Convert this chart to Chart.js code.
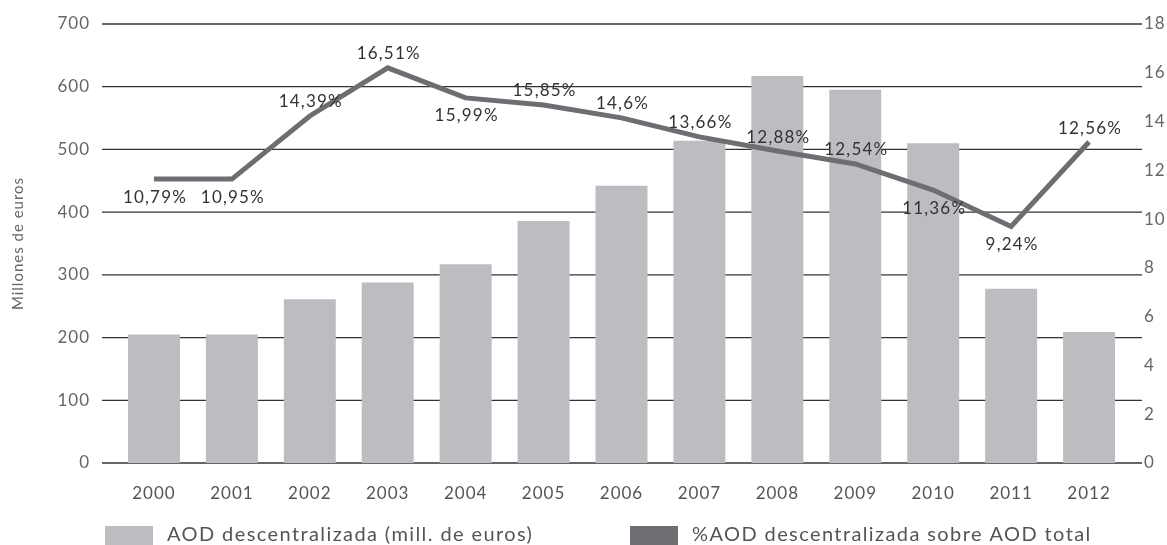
<!DOCTYPE html>
<html>
<head>
<meta charset="utf-8">
<script src="https://cdn.jsdelivr.net/npm/chart.js@4.4.1/dist/chart.umd.min.js"></script>
<style>
  html, body { margin: 0; padding: 0; background: #ffffff; }
  #wrap { width: 1167px; height: 545px; position: relative; }
</style>
</head>
<body>
<div id="wrap"><canvas id="c" width="1167" height="545"></canvas></div>
<script>
// ---- data ----
const years = ['2000','2001','2002','2003','2004','2005','2006','2007','2008','2009','2010','2011','2012'];
const aodMillions = [205, 205, 261, 288, 317, 386, 442, 514, 617, 595, 510, 278, 209];
const aodSharePlotted = [11.64, 11.64, 14.23, 16.2, 14.97, 14.68, 14.15, 13.37, 12.79, 12.26, 11.19, 9.7, 13.16];
const aodShareLabels = ['10,79%','10,95%','14,39%','16,51%','15,99%','15,85%','14,6%','13,66%','12,88%','12,54%','11,36%','9,24%','12,56%'];
const leftTicks = [0, 100, 200, 300, 400, 500, 600, 700];
const rightTicks = [0, 2, 4, 6, 8, 10, 12, 14, 16, 18];
const seriesNames = ['AOD descentralizada (mill. de euros)', '%AOD descentralizada sobre AOD total'];
const leftAxisTitle = 'Millones de euros';

// ---- style (not data) ----
const labelSide = ['below','below','above','above','below','above','above','above','above','above','below','below','above'];
const FONT = 'Lato';
const BAR_COLOR = '#bcbdc0';
const LINE_COLOR = '#6d6e71';

Chart.defaults.font.family = FONT;
Chart.defaults.font.weight = '400';

const spacingPlugin = {
  id: 'tracking',
  beforeDraw(chart) {
    chart.ctx.letterSpacing = '1px';
  }
};

const gridPlugin = {
  id: 'fullGrid',
  beforeDatasetsDraw(chart) {
    const {ctx, chartArea} = chart;
    const y = chart.scales.y;
    ctx.save();
    ctx.strokeStyle = '#333333';
    ctx.lineWidth = 1.3;
    y.ticks.forEach(t => {
      const py = y.getPixelForValue(t.value);
      ctx.beginPath();
      ctx.moveTo(chartArea.left - 13, py);
      ctx.lineTo(chartArea.right + 14, py);
      ctx.stroke();
    });
    ctx.restore();
  }
};

const labelPlugin = {
  id: 'pointLabels',
  afterDatasetsDraw(chart) {
    const {ctx} = chart;
    const meta = chart.getDatasetMeta(1);
    ctx.save();
    ctx.font = '400 17px ' + FONT;
    ctx.letterSpacing = '1.2px';
    ctx.fillStyle = '#333333';
    ctx.textAlign = 'center';
    ctx.textBaseline = 'middle';
    meta.data.forEach((pt, i) => {
      const dy = labelSide[i] === 'above' ? -14 : 18;
      ctx.fillText(aodShareLabels[i], pt.x + 1, pt.y + dy);
    });
    ctx.restore();
  }
};

const legendPlugin = {
  id: 'bottomLegend',
  afterDraw(chart) {
    const {ctx} = chart;
    const xs = [105, 630];
    ctx.save();
    ctx.font = '400 20px ' + FONT;
    ctx.letterSpacing = '1.4px';
    ctx.textAlign = 'left';
    ctx.textBaseline = 'middle';
    chart.data.datasets.forEach((ds, i) => {
      const col = ds.type === 'line' ? ds.borderColor : ds.backgroundColor;
      ctx.fillStyle = col;
      ctx.fillRect(xs[i], 526, 48, 20);
      ctx.fillStyle = '#555555';
      ctx.fillText(ds.label, xs[i] + 62, 535);
    });
    ctx.restore();
  }
};

new Chart(document.getElementById('c'), {
  data: {
    labels: years,
    datasets: [
      {
        type: 'bar',
        label: seriesNames[0],
        data: aodMillions,
        backgroundColor: BAR_COLOR,
        borderWidth: 0,
        yAxisID: 'y',
        categoryPercentage: 1,
        barPercentage: 0.667,
        order: 2
      },
      {
        type: 'line',
        label: seriesNames[1],
        data: aodSharePlotted,
        borderColor: LINE_COLOR,
        backgroundColor: LINE_COLOR,
        borderWidth: 5,
        pointRadius: 0,
        tension: 0,
        borderJoinStyle: 'miter',
        borderCapStyle: 'butt',
        yAxisID: 'y1',
        order: 1
      }
    ]
  },
  options: {
    responsive: false,
    animation: false,
    layout: { padding: { top: 24, bottom: 40, left: 0, right: 0 } },
    plugins: {
      legend: { display: false },
      tooltip: { enabled: false }
    },
    scales: {
      x: {
        offset: true,
        grid: { display: false, drawTicks: false },
        border: { display: false },
        ticks: { color: '#555555', font: { size: 17 }, padding: 20, maxRotation: 0 },
        afterFit(s) { s.height = 42; }
      },
      y: {
        position: 'left',
        min: 0, max: 700,
        afterBuildTicks(s) { s.ticks = leftTicks.map(v => ({ value: v })); },
        grid: { display: false, drawTicks: false },
        border: { display: false },
        ticks: { color: '#666666', font: { size: 17 }, padding: 25 },
        title: { display: true, text: leftAxisTitle, color: '#666666', font: { size: 15 }, padding: { top: 9, bottom: 0 } },
        afterFit(s) { s.width = 115; s.paddingTop = 0; s.paddingBottom = 0; }
      },
      y1: {
        position: 'right',
        min: 0, max: 18,
        afterBuildTicks(s) { s.ticks = rightTicks.map(v => ({ value: v })); },
        grid: { display: false, drawTicks: false },
        border: { display: false },
        ticks: { color: '#666666', font: { size: 17 }, padding: 16 },
        afterFit(s) { s.width = 39; s.paddingTop = 0; s.paddingBottom = 0; }
      }
    }
  },
  plugins: [spacingPlugin, gridPlugin, labelPlugin, legendPlugin]
});
</script>
</body>
</html>
